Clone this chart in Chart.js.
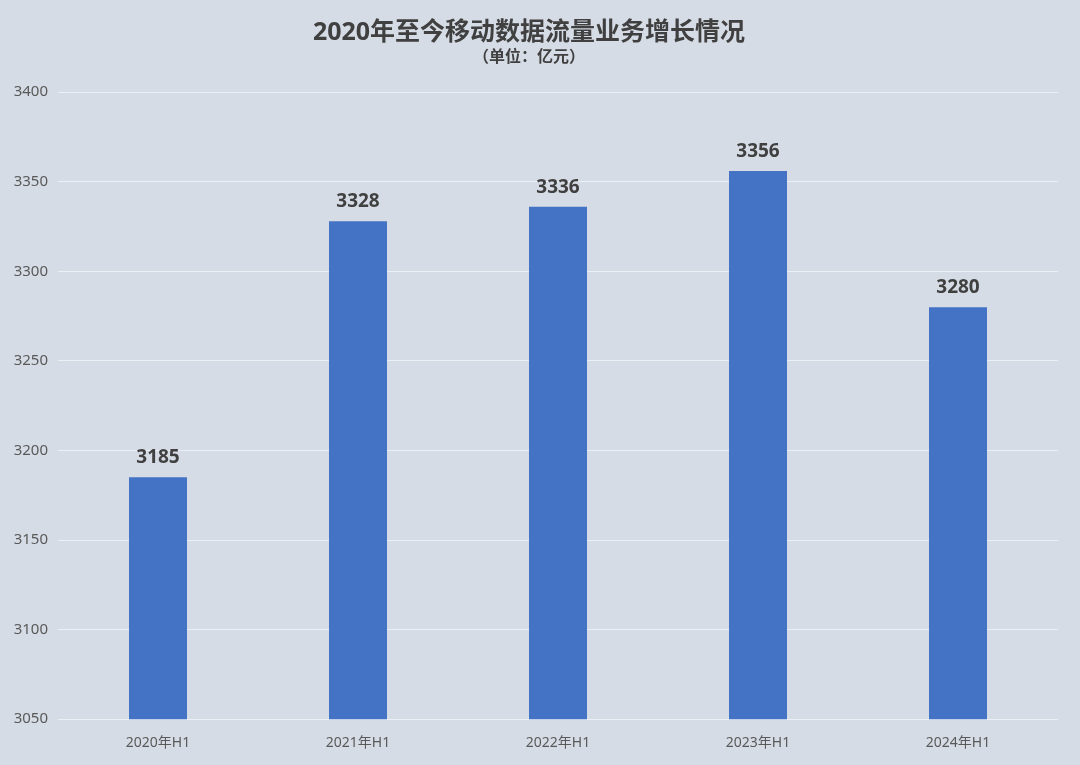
<!DOCTYPE html>
<html>
<head>
<meta charset="utf-8">
<script src="https://cdn.jsdelivr.net/npm/chart.js@4/dist/chart.umd.min.js"></script>
<style>
	html, body { margin: 0; padding: 0; background: #d6dce5; }
	#wrap { width: 1080px; height: 765px; position: relative; }
</style>
</head>
<body>
<div id="wrap"><canvas id="trafficChart"></canvas></div>
<script>
const categories = ['2020年H1', '2021年H1', '2022年H1', '2023年H1', '2024年H1'];
const revenue = [3185, 3328, 3336, 3356, 3280];
const yTicks = [3050, 3100, 3150, 3200, 3250, 3300, 3350, 3400];

const fontFamily = '"Noto Sans", "Noto Sans CJK SC", sans-serif';

// draw the value above each bar
const valueLabels = {
	id: 'valueLabels',
	afterDatasetsDraw(chart) {
		const ctx = chart.ctx;
		const meta = chart.getDatasetMeta(0);
		ctx.save();
		ctx.font = 'bold 19px ' + fontFamily;
		ctx.fillStyle = '#404040';
		ctx.textAlign = 'center';
		ctx.textBaseline = 'bottom';
		meta.data.forEach((bar, i) => {
			ctx.fillText(revenue[i], bar.x, bar.y - 10);
		});
		ctx.restore();
	},
};

const ctx = document.getElementById('trafficChart').getContext('2d');

new Chart(ctx, {
	type: 'bar',
	data: {
		labels: categories,
		datasets: [
			{
				label: '移动数据流量业务收入',
				data: revenue,
				backgroundColor: '#4472c4',
				barPercentage: 0.58,
				categoryPercentage: 0.5,
			},
		],
	},
	options: {
		responsive: true,
		maintainAspectRatio: false,
		animation: false,
		layout: { padding: { left: 0, right: 22, top: 18, bottom: 7 } },
		plugins: {
			legend: { display: false },
			tooltip: { enabled: false },
			title: {
				display: true,
				text: '2020年至今移动数据流量业务增长情况',
				color: '#404040',
				font: { family: fontFamily, size: 25, weight: 'bold' },
				padding: { top: 0, bottom: 0 },
			},
			subtitle: {
				display: true,
				text: '（单位：亿元）',
				color: '#404040',
				font: { family: fontFamily, size: 16, weight: 'bold' },
				padding: { top: 0, bottom: 25 },
			},
		},
		scales: {
			x: {
				grid: { display: false },
				border: { display: false },
				ticks: { color: '#595959', font: { family: fontFamily, size: 14 }, padding: 7 },
			},
			y: {
				min: 3050,
				max: 3400,
				afterFit(scale) { scale.width = 58; },
				afterBuildTicks(scale) { scale.ticks = yTicks.map((v) => ({ value: v })); },
				grid: { color: '#eceff4', lineWidth: 1, drawTicks: false },
				border: { display: false },
				ticks: {
					color: '#595959',
					font: { family: fontFamily, size: 15 },
					padding: 10,
					callback: (v) => String(v),
				},
			},
		},
	},
	plugins: [valueLabels],
});
</script>
</body>
</html>
